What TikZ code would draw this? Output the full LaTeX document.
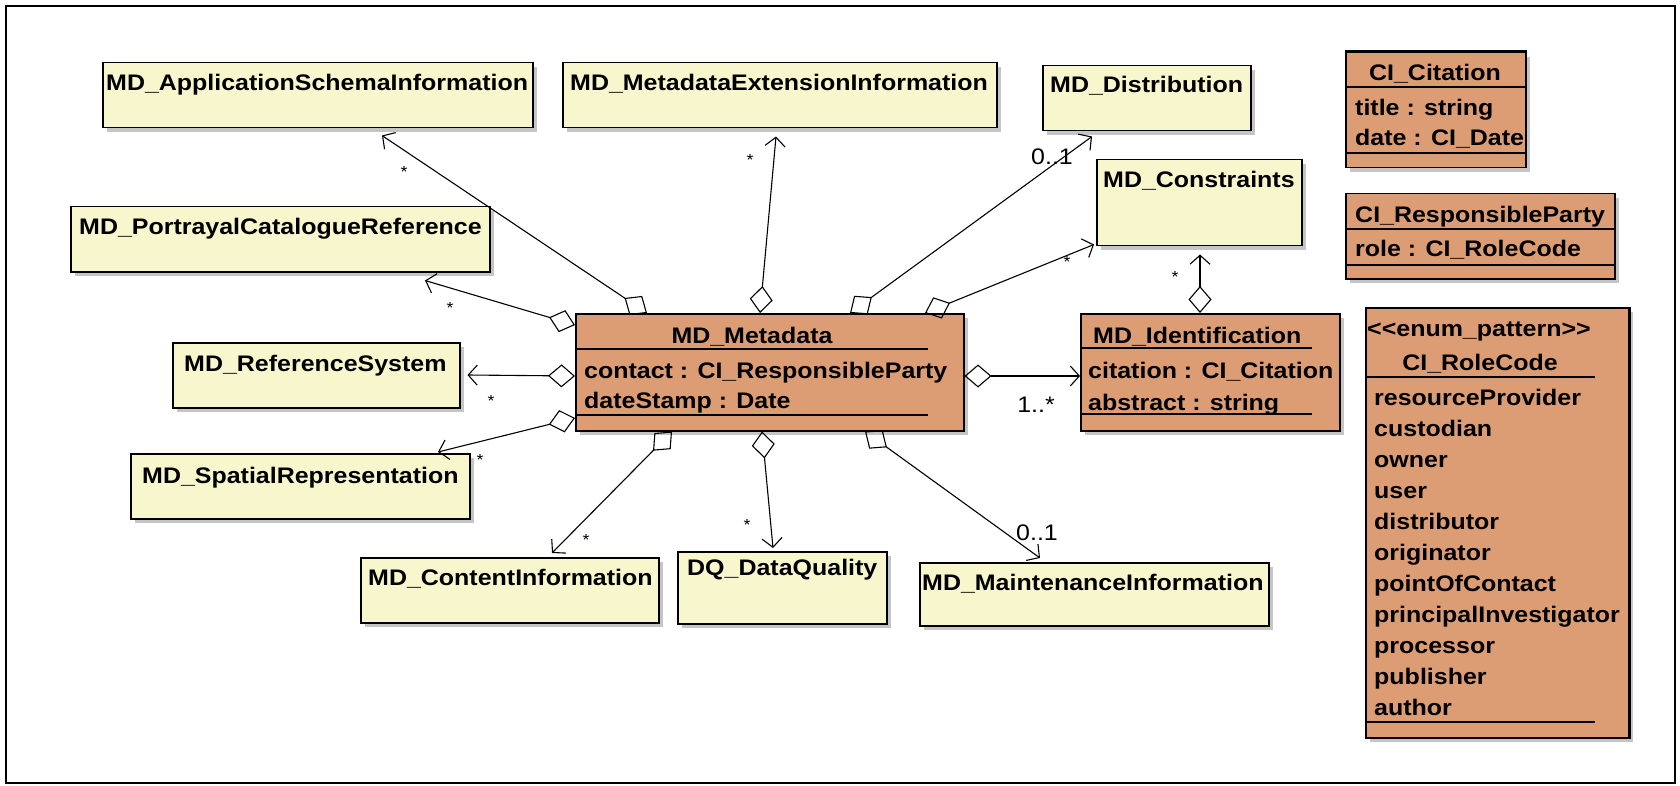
\documentclass[tikz,border=0pt]{standalone}
\usepackage{fontspec}
\newfontfamily\umlfont{Liberation Sans}[FakeStretch=1.11]
\usetikzlibrary{arrows.meta,calc,shadows}
\definecolor{umlyellow}{RGB}{248,246,204}
\definecolor{umlorange}{RGB}{220,157,116}
\begin{document}
\begin{tikzpicture}[x=1pt,y=-1pt,
  umlbox/.style={draw=black, line width=1.5pt, anchor=north west, inner sep=0pt,
     drop shadow={shadow xshift=4pt,shadow yshift=-4pt,opacity=0.45}},
  ybox/.style={umlbox, fill=umlyellow},
  obox/.style={umlbox, fill=umlorange},
  txt/.style={anchor=base west, inner sep=0pt, font=\umlfont\bfseries\fontsize{22.5}{27}\selectfont},
  ctxt/.style={txt, anchor=base},
  mult/.style={inner sep=0pt, font=\umlfont\fontsize{22.5}{27}\selectfont},
  mstar/.style={inner sep=0pt, font=\umlfont\fontsize{16}{18}\selectfont},
  agg/.style={line width=1.1pt, {Diamond[open,length=27pt,width=23pt]}-{Straight Barb[length=9pt,width=20pt]}},
  seprule/.style={line width=1.3pt}
]
\useasboundingbox (0,0) rectangle (1680,786);
\fill[white] (0,0) rectangle (1680,786);
\draw[line width=1.5pt] (6,6) rectangle (1675,783);

% yellow boxes
\node[ybox, minimum width=430pt, minimum height=65pt] (app) at (102,62) {};
\node[txt] (appT) at (106,91) {MD\_ApplicationSchemaInformation};
\node[ybox, minimum width=434pt, minimum height=65pt] (ext) at (562,62) {};
\node[txt] (extT) at (570,91) {MD\_MetadataExtensionInformation};
\node[ybox, minimum width=208pt, minimum height=65pt] (dist) at (1042,65) {};
\node[txt] (distT) at (1050,93) {MD\_Distribution};
\node[ybox, minimum width=205pt, minimum height=86pt] (cons) at (1096,159) {};
\node[txt] (consT) at (1103,188) {MD\_Constraints};
\node[ybox, minimum width=419pt, minimum height=65pt] (port) at (70,206) {};
\node[txt] (portT) at (79,235) {MD\_PortrayalCatalogueReference};
\node[ybox, minimum width=287pt, minimum height=65pt] (refs) at (172,342) {};
\node[txt] (refsT) at (184,371) {MD\_ReferenceSystem};
\node[ybox, minimum width=339pt, minimum height=65pt] (spat) at (130,453) {};
\node[txt] (spatT) at (142,483) {MD\_SpatialRepresentation};
\node[ybox, minimum width=298pt, minimum height=65pt] (cont) at (360,557) {};
\node[txt] (contT) at (368,585) {MD\_ContentInformation};
\node[ybox, minimum width=209pt, minimum height=72pt] (dq) at (677,551) {};
\node[txt] (dqT) at (687,575) {DQ\_DataQuality};
\node[ybox, minimum width=349pt, minimum height=63pt] (maint) at (919,562) {};
\node[txt] (maintT) at (922,590) {MD\_MaintenanceInformation};

% MD_Metadata
\node[obox, minimum width=388pt, minimum height=117pt] (meta) at (575,313) {};
\node[ctxt] (metaT) at (752,343) {MD\_Metadata};
\draw[seprule] ($(meta.north west)+(0,36)$) -- ($(meta.north west)+(353,36)$);
\node[txt] (metaA1) at (584,378) {contact : CI\_ResponsibleParty};
\node[txt] (metaA2) at (584,408) {dateStamp : Date};
\draw[seprule] ($(meta.north west)+(0,102)$) -- ($(meta.north west)+(353,102)$);

% MD_Identification
\node[obox, minimum width=259pt, minimum height=117pt] (ident) at (1080,313) {};
\node[txt] (identT) at (1093,343) {MD\_Identification};
\draw[seprule] ($(ident.north west)+(0,35)$) -- ($(ident.north west)+(232,35)$);
\node[txt] (identA1) at (1088,378) {citation : CI\_Citation};
\node[txt] (identA2) at (1088,410) {abstract : string};
\draw[seprule] ($(ident.north west)+(0,101)$) -- ($(ident.north west)+(232,101)$);

% CI_Citation
\node[obox, minimum width=180pt, minimum height=115pt] (cit) at (1345,52) {};
\draw[line width=3pt] (cit.north west) -- (cit.north east);
\node[ctxt] (citT) at (1435,81) {CI\_Citation};
\draw[seprule] ($(cit.north west)+(0,35)$) -- ($(cit.north east)+(0,35)$);
\node[txt] (citA1) at (1355,116) {title : string};
\node[txt] (citA2) at (1355,146) {date : CI\_Date};
\draw[seprule] ($(cit.north west)+(0,101)$) -- ($(cit.north east)+(0,101)$);

% CI_ResponsibleParty
\node[obox, minimum width=269pt, minimum height=85pt] (resp) at (1345,193) {};
\node[txt] (respT) at (1355,223) {CI\_ResponsibleParty};
\draw[seprule] ($(resp.north west)+(0,36)$) -- ($(resp.north east)+(0,36)$);
\node[txt] (respA1) at (1355,257) {role : CI\_RoleCode};
\draw[seprule] ($(resp.north west)+(0,72)$) -- ($(resp.north east)+(0,72)$);

% CI_RoleCode
\node[obox, minimum width=263pt, minimum height=430pt] (role) at (1365,307) {};
\draw[line width=3.5pt] (role.north east) -- (role.south east);
\node[txt] (roleS) at (1367,336) {<\kern0pt<enum\_pattern>\kern0pt>};
\node[ctxt] (roleT) at (1480,370) {CI\_RoleCode};
\draw[seprule] ($(role.north west)+(0,70)$) -- ($(role.north west)+(230,70)$);
\foreach \t [count=\i from 0] in {resourceProvider,custodian,owner,user,distributor,originator,pointOfContact,principalInvestigator,processor,publisher,author}{
  \node[txt] (roleI\i) at (1374,{405+31*\i}) {\t};
}
\draw[seprule] ($(role.north west)+(0,415)$) -- ($(role.north west)+(230,415)$);

% aggregations
\draw[agg] ($(meta.north west)+(72,0)$) -- ($(app.south west)+(280,7)$);
\draw[agg] ($(meta.north west)+(185,0)$) -- ($(ext.south west)+(214,8)$);
\draw[agg] ($(meta.north west)+(275,0)$) -- ($(dist.south west)+(50,5)$);
\draw[agg] ($(meta.north west)+(350,0)$) -- ($(cons.south west)+(-2,-2)$);
\draw[agg] ($(meta.north west)+(0,12)$) -- ($(port.south west)+(355,8)$);
\draw[agg] ($(meta.north west)+(0,63)$) -- ($(refs.north east)+(7,33)$);
\draw[agg] ($(meta.north west)+(0,105)$) -- ($(spat.north west)+(308,-1)$);
\draw[agg] ($(meta.north east)+(0,63)$) -- ($(ident.north west)+(0,63)$);
\draw[agg] ($(meta.south west)+(97,0)$) -- ($(cont.north west)+(192,-4)$);
\draw[agg] ($(meta.south west)+(187,0)$) -- ($(dq.north west)+(96,-3)$);
\draw[agg] ($(meta.south west)+(290,0)$) -- ($(maint.north west)+(121,-4)$);
\draw[agg] ($(ident.north west)+(120,0)$) -- ($(cons.south west)+(104,8)$);

% multiplicities
\node[mstar] (m1) at (404,172) {*};
\node[mstar] (m2) at (750,160) {*};
\node[mstar] (m3) at (1067,262) {*};
\node[mstar] (m4) at (1175,277) {*};
\node[mstar] (m5) at (450,308) {*};
\node[mstar] (m6) at (491,401) {*};
\node[mstar] (m7) at (480,460) {*};
\node[mstar] (m8) at (586,540) {*};
\node[mstar] (m9) at (747,525) {*};
\node[mult] (m10) at (1052,157) {0..1};
\node[mult] (m11) at (1036,405) {1..*};
\node[mult] (m12) at (1037,533) {0..1};
\end{tikzpicture}
\end{document}
